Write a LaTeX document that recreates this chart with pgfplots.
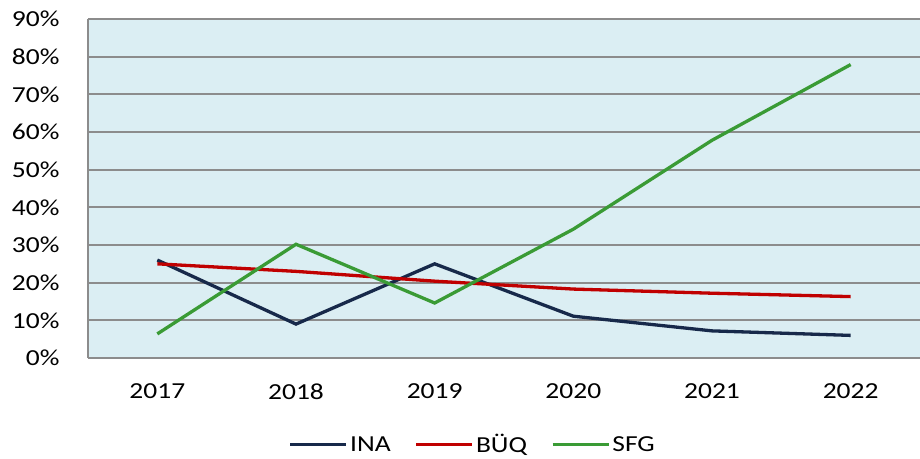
\documentclass[border=0pt]{standalone}
\usepackage{pgfplots}
\pgfplotsset{compat=1.18}
\usepackage{fontspec}
\setmainfont{Carlito}[FakeStretch=1.2]
\definecolor{bgblue}{HTML}{DBEEF3}
\definecolor{gridgray}{HTML}{8C8C8C}
\definecolor{inacol}{HTML}{17294A}
\definecolor{buqcol}{HTML}{C00000}
\definecolor{sfgcol}{HTML}{3A9B35}
\begin{document}
\begin{tikzpicture}
\begin{axis}[
  scale only axis,
  width=832bp, height=339bp,
  xmin=-0.5, xmax=5.5,
  ymin=0, ymax=90,
  xtick={0,1,2,3,4,5},
  xticklabels={2017,2018,2019,2020,2021,2022},
  ytick={0,10,...,90},
  yticklabel={\pgfmathprintnumber{\tick}\%},
  /pgf/number format/assume math mode=true,
  tick label style={font=\fontsize{23}{27}\selectfont, black},
  xticklabel style={yshift=-22bp},
  yticklabel style={xshift=-25bp},
  major tick length=0pt,
  ymajorgrids,
  grid style={gridgray, line width=2bp},
  axis background/.style={fill=bgblue},
  axis lines*=left,
  axis line style={gridgray, line width=2.2bp, -},
  clip=false,
  legend style={draw=none, fill=none, at={(0.4625,-0.255)}, anchor=center,
    legend columns=3, font=\fontsize{23}{27}\selectfont,
    /tikz/every even column/.append style={column sep=22bp}},
  legend cell align=left,
  legend image code/.code={\draw[#1, line width=3.3bp] (0bp,0bp) -- (56bp,0bp);},
]
\addplot[inacol, line width=3.3bp] coordinates {(0,26.0) (1,9.0) (2,25.0) (3,11.1) (4,7.2) (5,6.0)};
\addlegendentry{INA}
\addplot[buqcol, line width=3.3bp] coordinates {(0,25.0) (1,23.0) (2,20.4) (3,18.3) (4,17.2) (5,16.3)};
\addlegendentry{BÜQ}
\addplot[sfgcol, line width=3.3bp] coordinates {(0,6.4) (1,30.2) (2,14.6) (3,34.2) (4,57.8) (5,77.9)};
\addlegendentry{SFG}
\end{axis}
\pgfresetboundingbox
\path (current axis.south west) ++(-88bp,-101bp) rectangle ++(920bp,459bp);
\end{tikzpicture}
\end{document}
